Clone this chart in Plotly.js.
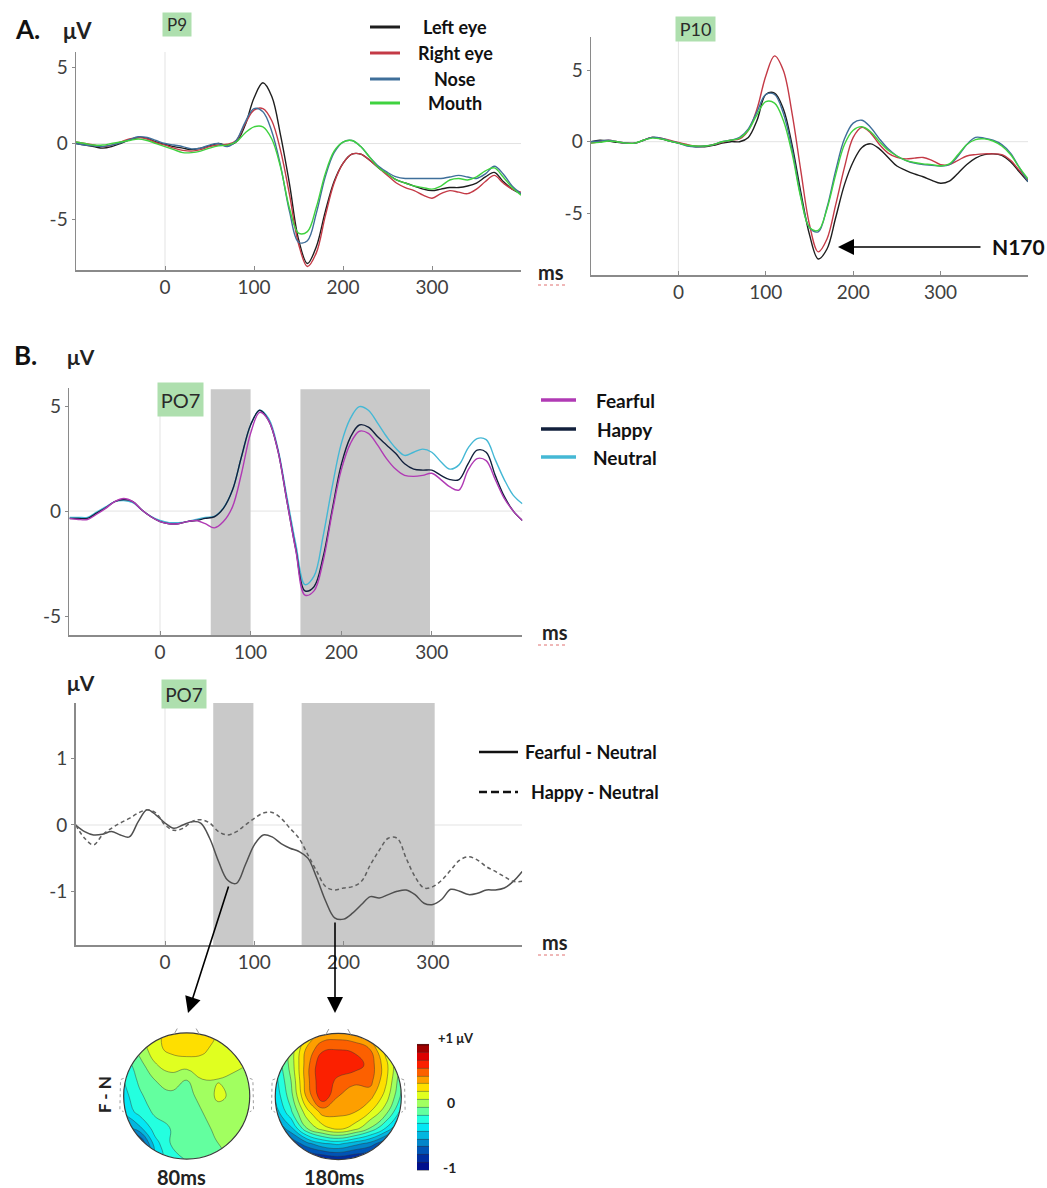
<!DOCTYPE html>
<html><head><meta charset="utf-8">
<script src="https://cdn.plot.ly/plotly-3.0.1.min.js"></script>
<style>html,body{margin:0;padding:0;background:#fff}#chart{width:1047px;height:1188px}</style>
</head><body><div id="chart"></div>
<script>
// ---------------- DATA ----------------
const time = [-100,-90,-80,-70,-60,-50,-40,-30,-20,-10,0,10,20,30,40,50,60,70,80,90,100,110,120,130,140,150,160,170,180,190,200,210,220,230,240,250,260,270,280,290,300,310,320,330,340,350,360,370,380,390,400];
const xTickVals = [0,100,200,300];
const xTickText = ['0','100','200','300'];

// Panel A, P9
const regionNames = ['Left eye','Right eye','Nose','Mouth'];
const p9LeftEye  = [0.0,-0.1,-0.2,-0.3,-0.2,0.0,0.25,0.4,0.35,0.1,-0.05, -0.2,-0.3,-0.4,-0.3,-0.15,0.0,-0.1,0.1,1.2,3.0, 4.0,3.1,0.5,-2.7,-6.3,-7.9,-6.8,-4.5,-2.5,-1.3, -0.7,-0.7,-1.1,-1.6,-2.0,-2.4,-2.6,-2.8,-3.0,-3.1, -3.0,-2.9,-2.9,-2.8,-2.6,-2.2,-1.9,-2.5,-3.0,-3.3];
const p9RightEye = [0.1,0.0,-0.1,-0.2,-0.1,0.1,0.3,0.4,0.3,0.05,-0.1, -0.3,-0.45,-0.5,-0.4,-0.2,-0.1,-0.05,0.2,1.3,2.2, 2.3,1.5,-0.5,-3.4,-6.6,-8.1,-7.2,-4.8,-2.6,-1.3, -0.7,-0.7,-1.1,-1.6,-2.1,-2.6,-2.9,-3.1,-3.4,-3.6, -3.3,-3.1,-3.2,-3.3,-3.0,-2.5,-2.1,-2.6,-3.0,-3.2];
const p9Nose     = [0.0,-0.1,-0.15,-0.2,-0.1,0.05,0.25,0.45,0.4,0.2,0.0, -0.1,-0.2,-0.35,-0.3,-0.1,0.0,-0.2,0.2,1.4,2.3, 2.1,0.8,-1.5,-4.5,-6.5,-6.4,-4.6,-2.2,-0.6,0.1, 0.2,-0.2,-0.9,-1.5,-1.9,-2.2,-2.3,-2.3,-2.3,-2.3, -2.3,-2.2,-2.1,-2.2,-2.3,-2.0,-1.5,-2.0,-2.8,-3.3];
const p9Mouth    = [0.1,0.0,-0.1,-0.1,0.0,0.1,0.2,0.3,0.2,0.0,-0.2, -0.4,-0.6,-0.6,-0.5,-0.3,-0.15,-0.1,0.1,0.7,1.1, 1.1,0.3,-1.6,-4.3,-5.9,-5.8,-4.2,-2.0,-0.5,0.1, 0.2,-0.2,-0.9,-1.6,-2.0,-2.4,-2.6,-2.8,-2.9,-3.0, -2.8,-2.4,-2.3,-2.4,-2.2,-1.8,-1.6,-2.2,-2.9,-3.4];

// Panel A, P10
const p10LeftEye  = [0.0,0.1,0.05,-0.05,-0.1,-0.1,0.1,0.3,0.2,0.05,-0.1, -0.25,-0.35,-0.35,-0.25,-0.1,0.0,0.0,0.3,1.5,3.3, 3.4,2.3,-0.2,-3.5,-6.5,-8.2,-7.5,-5.3,-3.0,-1.4, -0.4,-0.15,-0.5,-1.1,-1.7,-2.0,-2.25,-2.45,-2.7,-2.9, -2.75,-2.2,-1.6,-1.15,-0.9,-0.85,-0.95,-1.4,-2.1,-2.8];
const p10RightEye = [-0.1,0.0,0.1,0.0,-0.1,-0.1,0.1,0.3,0.25,0.1,-0.05, -0.2,-0.3,-0.3,-0.2,-0.05,0.1,0.2,0.8,2.3,4.6, 6.0,5.0,2.0,-2.0,-5.8,-7.7,-6.8,-4.4,-1.8,0.3, 1.0,0.6,-0.2,-0.8,-1.1,-1.2,-1.15,-1.1,-1.3,-1.6, -1.6,-1.3,-1.0,-0.9,-0.85,-0.85,-0.9,-1.3,-2.0,-2.7];
const p10Nose     = [0.0,0.05,0.1,0.0,-0.1,-0.1,0.1,0.3,0.25,0.05,-0.1, -0.3,-0.35,-0.3,-0.2,0.0,0.1,0.3,0.9,2.1,3.3, 3.3,2.0,-0.5,-3.8,-6.0,-6.3,-4.6,-2.0,0.2,1.3, 1.5,1.0,0.2,-0.5,-1.0,-1.3,-1.5,-1.6,-1.65,-1.7, -1.6,-1.0,-0.2,0.3,0.25,0.1,-0.2,-0.8,-1.8,-2.8];
const p10Mouth    = [-0.1,-0.05,0.05,0.0,-0.1,-0.1,0.1,0.25,0.2,0.05,-0.1, -0.25,-0.3,-0.3,-0.2,0.0,0.1,0.25,0.8,1.9,2.8, 2.7,1.5,-0.8,-3.9,-6.0,-6.2,-4.7,-2.3,-0.2,0.8, 1.05,0.7,0.0,-0.6,-1.0,-1.3,-1.45,-1.55,-1.6,-1.7, -1.55,-0.9,-0.2,0.15,0.2,0.05,-0.3,-0.9,-1.8,-2.6];

// Panel B, PO7 emotions
const emotionNames = ['Fearful','Happy','Neutral'];
const po7Fearful = [-0.35,-0.4,-0.4,-0.15,0.13,0.45,0.6,0.45,0.05,-0.27,-0.5, -0.6,-0.6,-0.5,-0.45,-0.6,-0.8,-0.5,0.2,1.8,3.7, 4.7,4.3,2.9,0.5,-1.9,-4.0,-3.8,-2.4,-0.1,1.95, 3.2,3.8,3.7,3.15,2.5,2.0,1.7,1.65,1.7,1.8, 1.5,1.15,1.0,1.95,2.5,2.4,1.5,0.6,0.0,-0.45];
const po7Happy   = [-0.35,-0.35,-0.35,-0.1,0.15,0.45,0.55,0.45,0.05,-0.27,-0.5, -0.6,-0.6,-0.5,-0.45,-0.35,-0.27,0.13,1.0,2.6,4.1, 4.8,4.3,2.9,0.5,-1.85,-3.8,-3.6,-2.2,0.05,2.2, 3.5,4.1,4.0,3.55,3.15,2.75,2.25,2.0,1.95,1.95, 1.7,1.5,1.5,2.25,2.9,2.8,1.7,0.7,0.0,-0.45];
const po7Neutral = [-0.3,-0.3,-0.3,-0.05,0.2,0.45,0.5,0.4,0.05,-0.25,-0.45, -0.55,-0.55,-0.5,-0.4,-0.3,-0.25,0.15,1.0,2.6,4.1, 4.8,4.4,3.0,0.7,-1.6,-3.5,-3.1,-1.2,1.15,3.2, 4.4,4.97,4.8,4.2,3.55,3.0,2.65,2.8,2.95,2.8, 2.35,2.0,2.2,3.0,3.45,3.4,2.45,1.5,0.75,0.35];

// Panel B, difference waves
const diffNames = ['Fearful - Neutral','Happy - Neutral'];
const fearfulMinusNeutral = [0.0,-0.1,-0.15,-0.14,-0.1,-0.15,-0.18,0.05,0.23,0.15,0.03, -0.05,0.0,0.05,0.03,-0.2,-0.55,-0.83,-0.88,-0.6,-0.3, -0.15,-0.18,-0.28,-0.35,-0.4,-0.5,-0.8,-1.15,-1.4,-1.42, -1.33,-1.2,-1.08,-1.1,-1.05,-1.0,-0.98,-1.05,-1.18,-1.2, -1.12,-0.97,-1.0,-1.05,-1.03,-0.98,-0.98,-0.95,-0.85,-0.7];
const happyMinusNeutral   = [0.0,-0.2,-0.3,-0.15,-0.05,0.03,0.1,0.18,0.23,0.18,0.0, -0.08,-0.05,0.05,0.08,0.03,-0.1,-0.15,-0.1,0.0,0.1, 0.18,0.19,0.1,-0.05,-0.2,-0.45,-0.7,-0.93,-0.98,-0.95, -0.93,-0.85,-0.6,-0.38,-0.2,-0.2,-0.5,-0.78,-0.95,-0.93, -0.83,-0.68,-0.53,-0.48,-0.53,-0.63,-0.7,-0.78,-0.85,-0.85];

// Significant time windows (ms)
const windowsTop    = [[56,100],[155,298]];
const windowsBottom = [[54,99],[153,302]];

// Topographic maps (F - N), grid rows bottom -> top
const topoX = [-1,-0.75,-0.5,-0.25,0,0.25,0.5,0.75,1];
const topoY = [-1,-0.75,-0.5,-0.25,0,0.25,0.5,0.75,1];
const topo80 = [
  [-1.0,-1.0,-0.4,-0.15,-0.12,-0.1,-0.05,0.0,0.0],
  [-0.9,-0.8,-0.3,-0.12,-0.1,-0.08,0.0,0.05,0.05],
  [-0.55,-0.4,-0.18,-0.12,-0.05,-0.05,0.05,0.1,0.08],
  [-0.35,-0.2,-0.1,-0.1,-0.05,0.0,0.08,0.12,0.1],
  [-0.3,-0.15,-0.05,-0.05,-0.05,0.05,0.15,0.1,0.1],
  [-0.25,-0.1,0.0,0.1,0.0,0.12,0.12,0.1,0.12],
  [-0.2,-0.05,0.12,0.15,0.18,0.2,0.18,0.15,0.12],
  [-0.1,0.05,0.2,0.3,0.32,0.28,0.2,0.18,0.15],
  [0.0,0.1,0.2,0.32,0.32,0.32,0.25,0.18,0.12]
];
const topo180 = [
  [-1.0,-1.0,-0.95,-0.9,-0.85,-0.9,-0.95,-1.0,-1.0],
  [-0.95,-0.75,-0.55,-0.4,-0.35,-0.45,-0.55,-0.75,-0.9],
  [-0.65,-0.4,0.0,0.2,0.3,0.2,0.0,-0.25,-0.55],
  [-0.45,-0.15,0.2,0.42,0.4,0.38,0.25,0.05,-0.3],
  [-0.35,-0.05,0.4,0.72,0.5,0.45,0.42,0.2,-0.15],
  [-0.3,0.0,0.45,0.75,0.58,0.52,0.55,0.28,-0.1],
  [-0.25,0.05,0.45,0.75,0.75,0.7,0.58,0.3,-0.05],
  [-0.2,0.05,0.4,0.6,0.62,0.6,0.5,0.2,-0.05],
  [-0.15,0.0,0.25,0.4,0.42,0.38,0.25,0.05,-0.1]
];
const topoLabels = ['80ms','180ms'];

// ---------------- STYLE / LAYOUT ----------------
const W = 1047, H = 1188;
const px = v => v / W, py = v => 1 - v / H;
const FONT = 'Lato, "Open Sans", sans-serif';
const colorsA = ['#1e1e1e','#c43a46','#3f6f9a','#3fd23f'];
const colorsB = ['#b03ab4','#12203c','#45b8d5'];
const AX = '#8a8a8a';

function wave(x, y, color, xa, ya, dash, width) {
  return {type:'scatter', mode:'lines', x, y, xaxis:xa, yaxis:ya, hoverinfo:'skip', showlegend:false,
    line:{color, width:width||1.4, shape:'spline', smoothing:1, dash:dash||'solid'}};
}

const traces = [];
[p9LeftEye,p9RightEye,p9Nose,p9Mouth].forEach((s,i)=>traces.push(wave(time,s,colorsA[i],'x','y')));
[p10LeftEye,p10RightEye,p10Nose,p10Mouth].forEach((s,i)=>traces.push(wave(time,s,colorsA[i],'x2','y2')));
[po7Neutral,po7Happy,po7Fearful].forEach((s,i)=>traces.push(wave(time,s,colorsB[2-i],'x3','y3')));
traces.push(wave(time,fearfulMinusNeutral,'#505050','x4','y4','solid',1.5));
traces.push(wave(time,happyMinusNeutral,'#606060','x4','y4','4px,3px',1.5));

const contourCommon = {type:'contour', x:topoX, y:topoY, colorscale:'Jet', zmin:-1, zmax:1, zauto:false,
  autocontour:false, contours:{start:-1, end:1, size:0.125, coloring:'fill'},
  line:{color:'rgba(50,50,50,0.55)', width:0.8, smoothing:1.3}, hoverinfo:'skip'};
traces.push(Object.assign({}, contourCommon, {z:topo80, xaxis:'x5', yaxis:'y5', showscale:false}));
traces.push(Object.assign({}, contourCommon, {z:topo180, xaxis:'x6', yaxis:'y6', showscale:true,
  colorbar:{x:px(417), xanchor:'left', y:py(1107), yanchor:'middle', len:126, lenmode:'pixels',
    thickness:12, thicknessmode:'pixels', xpad:0, ypad:0, outlinewidth:0, showticklabels:false, ticks:''}}));

function xax(d0, d1, anchor) {
  return {domain:[px(d0),px(d1)], range:[-100,400], anchor, showline:true, linecolor:AX, linewidth:1.5,
    ticks:'inside', ticklen:4, tickcolor:AX, tickvals:xTickVals, ticktext:xTickText,
    tickfont:{family:FONT, size:19, color:'#404040'}, showgrid:false, zeroline:false, fixedrange:true};
}
function yax(t0, t1, range, tv, tt, anchor) {
  return {domain:[py(t1),py(t0)], range, anchor, showline:true, linecolor:AX, linewidth:1.5,
    ticks:'outside', ticklen:3, tickcolor:AX, tickvals:tv, ticktext:tt,
    tickfont:{family:FONT, size:19, color:'#404040'}, showgrid:false, zeroline:false, fixedrange:true};
}
function topoAx(d0, d1, anchor, isY) {
  return {domain: isY ? [py(d1),py(d0)] : [px(d0),px(d1)], range:[-1.12,1.12], anchor, visible:false, fixedrange:true};
}

const shapes = [];
[['x','y',-8.33,6.03],['x2','y2',-9.32,7.32],['x3','y3',-5.9,5.86],['x4','y4',-1.81,1.84]].forEach(([xa,ya,lo,hi])=>{
  shapes.push({type:'line', xref:xa, yref:ya, x0:-100, x1:400, y0:0, y1:0, line:{color:'#e3e3e3', width:1}, layer:'below'});
  shapes.push({type:'line', xref:xa, yref:ya, x0:0, x1:0, y0:lo, y1:hi, line:{color:'#e3e3e3', width:1}, layer:'below'});
});
windowsTop.forEach(([a,b])=>shapes.push({type:'rect', xref:'x3', yref:'y3', x0:a, x1:b, y0:-5.9, y1:5.8, fillcolor:'#c9c9c9', line:{width:0}, layer:'below'}));
windowsBottom.forEach(([a,b])=>shapes.push({type:'rect', xref:'x4', yref:'y4', x0:a, x1:b, y0:-1.81, y1:1.84, fillcolor:'#c9c9c9', line:{width:0}, layer:'below'}));

function circlePath(r){const k=0.5523*r;return `M ${r},0 C ${r},${k} ${k},${r} 0,${r} C ${-k},${r} ${-r},${k} ${-r},0 C ${-r},${-k} ${-k},${-r} 0,${-r} C ${k},${-r} ${r},${-k} ${r},0 Z`;}
[['x5','y5'],['x6','y6']].forEach(([xa,ya])=>{
  shapes.push({type:'path', xref:xa, yref:ya, path:'M -1.3,-1.3 L 1.3,-1.3 L 1.3,1.3 L -1.3,1.3 Z ' + circlePath(1), fillcolor:'#ffffff', fillrule:'evenodd', line:{width:0}, layer:'above'});
  shapes.push({type:'circle', xref:xa, yref:ya, x0:-1, x1:1, y0:-1, y1:1, line:{color:'#3a3a3a', width:1.2}, layer:'above'});
  shapes.push({type:'path', xref:xa, yref:ya, path:'M -1.0,0.28 L -1.05,0.26 L -1.06,-0.22 L -1.0,-0.25', line:{color:'#a0a0a0', width:1, dash:'dot'}, layer:'above'});
  shapes.push({type:'path', xref:xa, yref:ya, path:'M 1.0,0.28 L 1.05,0.26 L 1.06,-0.22 L 1.0,-0.25', line:{color:'#a0a0a0', width:1, dash:'dot'}, layer:'above'});
  shapes.push({type:'path', xref:xa, yref:ya, path:'M -0.2,0.98 L -0.15,1.07 M 0.2,0.98 L 0.15,1.07', line:{color:'#9a9a9a', width:1}, layer:'above'});
});

const legA = [27,53,79,103];
regionNames.forEach((n,i)=>shapes.push({type:'line', xref:'paper', yref:'paper', x0:px(370), x1:px(400), y0:py(legA[i]), y1:py(legA[i]), line:{color:colorsA[i], width:3}}));
const legB = [400,429,457];
emotionNames.forEach((n,i)=>shapes.push({type:'line', xref:'paper', yref:'paper', x0:px(541), x1:px(576), y0:py(legB[i]), y1:py(legB[i]), line:{color:colorsB[i], width:3.5}}));
shapes.push({type:'line', xref:'paper', yref:'paper', x0:px(479), x1:px(518), y0:py(752), y1:py(752), line:{color:'#111', width:2.5}});
shapes.push({type:'line', xref:'paper', yref:'paper', x0:px(479), x1:px(518), y0:py(792), y1:py(792), line:{color:'#111', width:2.5, dash:'8px,4px'}});
[285, 645, 955].forEach(yy=>shapes.push({type:'line', xref:'paper', yref:'paper', x0:px(538), x1:px(566), y0:py(yy), y1:py(yy), line:{color:'#e07070', width:1, dash:'dot'}}));

function T(text, x, y, o) {
  return Object.assign({text, x:px(x), y:py(y), xref:'paper', yref:'paper', showarrow:false,
    xanchor:'center', yanchor:'middle', font:{family:FONT, size:18, color:'#111'}}, o||{});
}
const greenBox = (text,x,y,w,h,fs)=>T(text,x,y,{bgcolor:'#aedfae', width:w, height:h, font:{family:FONT,size:fs,color:'#2a2a2a'}});
const arrow = (x,y,ax,ay)=>({x:px(x), y:py(y), xref:'paper', yref:'paper', ax, ay, text:'', showarrow:true, arrowhead:2, arrowsize:2, arrowwidth:1.6, arrowcolor:'#000'});
const annotations = [
  T('<b>A.</b>',27,29,{font:{family:FONT,size:26,color:'#111'}}),
  T('<b>μV</b>',77,30,{font:{family:FONT,size:22,color:'#222'}}),
  greenBox('P9',176.5,24,26,21,17),
  greenBox('P10',695,29,37,22,18),
  T('<b>ms</b>',551,272,{font:{family:FONT,size:20,color:'#222'}}),
  T('<b>N170</b>',990,246,{xanchor:'left',font:{family:FONT,size:21,color:'#111'}}),
  arrow(838,247,144,0),
  T('<b>B.</b>',25,355,{font:{family:FONT,size:26,color:'#111'}}),
  T('<b>μV</b>',81,356,{font:{family:FONT,size:21,color:'#222'}}),
  greenBox('PO7',180.5,399.5,43,31,20),
  T('<b>ms</b>',555,632,{font:{family:FONT,size:20,color:'#222'}}),
  T('<b>μV</b>',81,682,{font:{family:FONT,size:21,color:'#222'}}),
  greenBox('PO7',184,694,42,26,19),
  T('<b>ms</b>',555,942,{font:{family:FONT,size:20,color:'#222'}}),
  arrow(188,1013,41,-128),
  arrow(335,1013,0,-92),
  T('<b>F - N</b>',104,1095,{textangle:-90,font:{family:FONT,size:17,color:'#222'}}),
  T('<b>'+topoLabels[0]+'</b>',181,1177,{font:{family:FONT,size:20,color:'#222'}}),
  T('<b>'+topoLabels[1]+'</b>',334,1177,{font:{family:FONT,size:20,color:'#222'}}),
  T('<b>+1 μV</b>',436,1038,{xanchor:'left',font:{family:FONT,size:13,color:'#222'}}),
  T('<b>0</b>',445,1102,{xanchor:'left',font:{family:FONT,size:14,color:'#222'}}),
  T('<b>-1</b>',441,1167,{xanchor:'left',font:{family:FONT,size:14,color:'#222'}})
];
regionNames.forEach((n,i)=>annotations.push(T('<b>'+n+'</b>',455,legA[i],{font:{family:FONT,size:18,color:'#111'}})));
emotionNames.forEach((n,i)=>annotations.push(T('<b>'+n+'</b>',625,legB[i],{font:{family:FONT,size:19,color:'#111'}})));
annotations.push(T('<b>'+diffNames[0]+'</b>',523,752,{xanchor:'left',font:{family:FONT,size:18,color:'#111'}}));
annotations.push(T('<b>'+diffNames[1]+'</b>',529,792,{xanchor:'left',font:{family:FONT,size:18,color:'#111'}}));

const layout = {
  width:W, height:H, margin:{l:0,r:0,t:0,b:0}, paper_bgcolor:'#ffffff', plot_bgcolor:'#ffffff', showlegend:false,
  xaxis: xax(76,521,'y'),       yaxis: yax(52,270,[-8.33,6.03],[-5,0,5],['-5','0','5'],'x'),
  xaxis2:xax(591,1028,'y2'),    yaxis2:yax(37,275,[-9.32,7.32],[-5,0,5],['-5','0','5'],'x2'),
  xaxis3:xax(69.4,522.4,'y3'),  yaxis3:yax(388,635,[-5.9,5.86],[-5,0,5],['-5','0','5'],'x3'),
  xaxis4:xax(75.7,522.2,'y4'),  yaxis4:yax(703,945,[-1.81,1.84],[-1,0,1],['-1','0','1'],'x4'),
  xaxis5:topoAx(116.1,257.3,'y5',false), yaxis5:topoAx(1025.4,1166.6,'x5',true),
  xaxis6:topoAx(267.7,408.9,'y6',false), yaxis6:topoAx(1025.9,1167.1,'x6',true),
  shapes, annotations
};
Plotly.newPlot('chart', traces, layout, {staticPlot:true, displayModeBar:false});
</script>
</body></html>
